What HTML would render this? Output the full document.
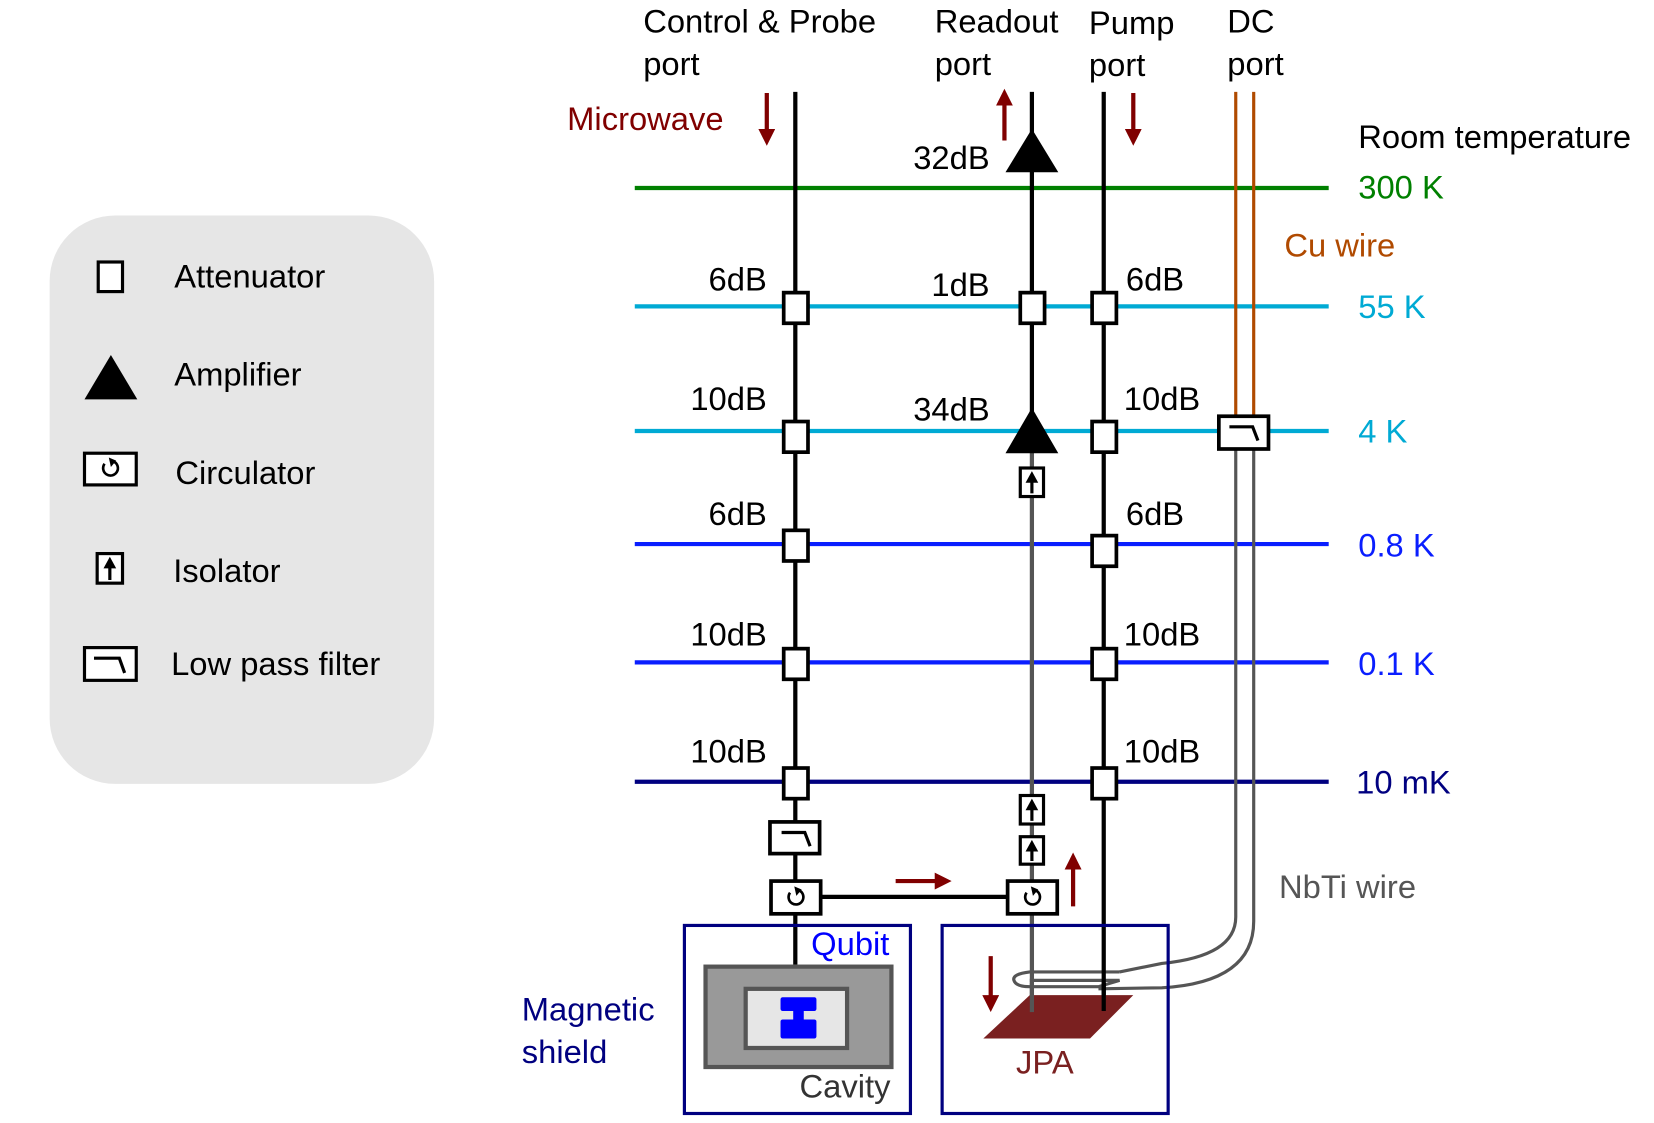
<!DOCTYPE html>
<html><head><meta charset="utf-8"><style>
html,body{margin:0;padding:0;background:#fff}
svg{display:block}
text{font-family:"Liberation Sans",Arial,sans-serif;font-size:31px}
</style></head><body>
<svg width="1654" height="1123" viewBox="0 0 1566 1063" preserveAspectRatio="none" xmlns="http://www.w3.org/2000/svg">
<defs>
<marker id="ar" viewBox="0 0 10 10" refX="5" refY="5" markerWidth="4" markerHeight="4" orient="auto"><path d="M0,0L10,5L0,10z" fill="#800000"/></marker>
</defs>
<rect x="47" y="204" width="364" height="538" rx="62" fill="#e6e6e6"/>
<rect x="93" y="248" width="23" height="28" fill="#fff" stroke="#000" stroke-width="3"/>
<polygon points="80,378 130,378 105,336" fill="#000"/>
<rect x="80" y="429" width="49" height="30" fill="#fff" stroke="#000" stroke-width="3"/>
<path d="M99,439 A7,7 0 1 0 108,437" fill="none" stroke="#000" stroke-width="2.5"/><polygon points="103,433 110,436 105,442" fill="#000"/>
<rect x="92" y="524" width="24" height="28" fill="#fff" stroke="#000" stroke-width="3"/>
<line x1="104" y1="549" x2="104" y2="534" stroke="#000" stroke-width="3"/><polygon points="98,538 110,538 104,527" fill="#000"/>
<rect x="80" y="613" width="49" height="31" fill="#fff" stroke="#000" stroke-width="3"/>
<path d="M89,623 H113 L118,637" fill="none" stroke="#000" stroke-width="3"/>
<text x="165" y="272">Attenuator</text>
<text x="165" y="365">Amplifier</text>
<text x="166" y="458">Circulator</text>
<text x="164" y="551">Isolator</text>
<text x="162" y="639">Low pass filter</text>

<line x1="601" y1="178" x2="1258" y2="178" stroke="#008000" stroke-width="4"/>
<line x1="601" y1="290" x2="1258" y2="290" stroke="#00aad4" stroke-width="4"/>
<line x1="601" y1="408" x2="1258" y2="408" stroke="#00aad4" stroke-width="4"/>
<line x1="601" y1="515" x2="1258" y2="515" stroke="#0a1eff" stroke-width="4"/>
<line x1="601" y1="627" x2="1258" y2="627" stroke="#0a1eff" stroke-width="4"/>
<line x1="601" y1="740" x2="1258" y2="740" stroke="#000080" stroke-width="4"/>

<line x1="1170" y1="87" x2="1170" y2="400" stroke="#b04a00" stroke-width="3"/>
<line x1="1187" y1="87" x2="1187" y2="400" stroke="#b04a00" stroke-width="3"/>
<path d="M1170,420 V868 Q1170,905 1100,912 L1060,920" fill="none" stroke="#555" stroke-width="3"/>
<path d="M1187,420 V872 Q1187,930 1100,935 L1040,936" fill="none" stroke="#555" stroke-width="3"/>
<path d="M1060,920 L975,920 Q958,922 960,928 Q962,934 975,934 L1040,934 L1060,928 L975,928" fill="none" stroke="#555" stroke-width="3"/>

<line x1="753" y1="87" x2="753" y2="913" stroke="#000" stroke-width="4"/>
<line x1="977" y1="87" x2="977" y2="410" stroke="#000" stroke-width="4"/>
<line x1="977" y1="410" x2="977" y2="958" stroke="#555" stroke-width="4"/>
<line x1="1045" y1="87" x2="1045" y2="957" stroke="#000" stroke-width="4"/>
<line x1="777" y1="849" x2="953" y2="849" stroke="#000" stroke-width="4"/>

<g fill="#fff" stroke="#000" stroke-width="3.5">
<rect x="742" y="277" width="23" height="29"/>
<rect x="742" y="399" width="23" height="29"/>
<rect x="742" y="502" width="23" height="29"/>
<rect x="742" y="614" width="23" height="29"/>
<rect x="742" y="727" width="23" height="29"/>
<rect x="966" y="277" width="23" height="29"/>
<rect x="1034" y="277" width="23" height="29"/>
<rect x="1034" y="399" width="23" height="29"/>
<rect x="1034" y="507" width="23" height="29"/>
<rect x="1034" y="614" width="23" height="29"/>
<rect x="1034" y="727" width="23" height="29"/>
</g>
<polygon points="952,163 1002,163 977,122" fill="#000"/>
<polygon points="952,429 1002,429 977,386" fill="#000"/>
<g>
<rect x="966" y="443" width="22" height="27" fill="#fff" stroke="#000" stroke-width="3"/>
<rect x="966" y="753" width="22" height="27" fill="#fff" stroke="#000" stroke-width="3"/>
<rect x="966" y="792" width="22" height="26" fill="#fff" stroke="#000" stroke-width="3"/>
<g stroke="#000" stroke-width="3"><line x1="977" y1="467" x2="977" y2="453"/><line x1="977" y1="777" x2="977" y2="763"/><line x1="977" y1="815" x2="977" y2="802"/></g>
<polygon points="971,457 983,457 977,446" fill="#000"/>
<polygon points="971,767 983,767 977,756" fill="#000"/>
<polygon points="971,806 983,806 977,795" fill="#000"/>
</g>
<rect x="729" y="778" width="47" height="30" fill="#fff" stroke="#000" stroke-width="3.5"/>
<path d="M740,788 H762 L767,801" fill="none" stroke="#000" stroke-width="3"/>
<rect x="1154" y="394" width="47" height="31" fill="#fff" stroke="#000" stroke-width="3.5"/>
<path d="M1164,404 H1186 L1191,417" fill="none" stroke="#000" stroke-width="3"/>
<rect x="730" y="834" width="47" height="31" fill="#fff" stroke="#000" stroke-width="3.5"/>
<path d="M748,845 A7,7 0 1 0 757,843" fill="none" stroke="#000" stroke-width="2.5"/><polygon points="752,839 759,842 754,848" fill="#000"/>
<rect x="954" y="834" width="47" height="31" fill="#fff" stroke="#000" stroke-width="3.5"/>
<path d="M972,845 A7,7 0 1 0 981,843" fill="none" stroke="#000" stroke-width="2.5"/><polygon points="976,839 983,842 978,848" fill="#000"/>

<rect x="648" y="876" width="214" height="178" fill="none" stroke="#000080" stroke-width="3"/>
<rect x="892" y="876" width="214" height="178" fill="none" stroke="#000080" stroke-width="3"/>
<rect x="668" y="915" width="176" height="95" fill="#999" stroke="#555" stroke-width="4"/>
<rect x="706" y="936" width="96" height="56" fill="#e6e6e6" stroke="#555" stroke-width="4"/>
<rect x="739" y="944" width="34" height="13" rx="2" fill="#0000ff"/>
<rect x="751" y="955" width="10" height="12" fill="#0000ff"/>
<rect x="739" y="965" width="34" height="18" rx="2" fill="#0000ff"/>
<polygon points="975,942 1073,942 1032,983 931,983" fill="#7a2020"/>
<line x1="977" y1="930" x2="977" y2="958" stroke="#555" stroke-width="4"/>
<line x1="1045" y1="930" x2="1045" y2="957" stroke="#000" stroke-width="4"/>

<g stroke="#800000" stroke-width="4" marker-end="url(#ar)">
<line x1="726" y1="88" x2="726" y2="130"/>
<line x1="951" y1="133" x2="951" y2="92"/>
<line x1="1073" y1="88" x2="1073" y2="130"/>
<line x1="848" y1="834" x2="893" y2="834"/>
<line x1="1016" y1="858" x2="1016" y2="815"/>
<line x1="938" y1="905" x2="938" y2="950"/>
</g>

<text x="609" y="31">Control &amp; Probe</text>
<text x="609" y="71">port</text>
<text x="885" y="31">Readout</text>
<text x="885" y="71">port</text>
<text x="1031" y="32">Pump</text>
<text x="1031" y="72">port</text>
<text x="1162" y="31">DC</text>
<text x="1162" y="71">port</text>
<text x="537" y="123" fill="#800000">Microwave</text>
<g text-anchor="end">
<text x="726" y="275">6dB</text>
<text x="726" y="388">10dB</text>
<text x="726" y="497">6dB</text>
<text x="726" y="611">10dB</text>
<text x="726" y="722">10dB</text>
<text x="937" y="280">1dB</text>
<text x="937" y="160">32dB</text>
<text x="937" y="398">34dB</text>
</g>
<text x="1066" y="275">6dB</text>
<text x="1064" y="388">10dB</text>
<text x="1066" y="497">6dB</text>
<text x="1064" y="611">10dB</text>
<text x="1064" y="722">10dB</text>
<text x="1286" y="140">Room temperature</text>
<text x="1286" y="188" fill="#008000">300 K</text>
<text x="1216" y="243" fill="#b04a00">Cu wire</text>
<text x="1286" y="301" fill="#00aad4">55 K</text>
<text x="1286" y="419" fill="#00aad4">4 K</text>
<text x="1286" y="527" fill="#0a1eff">0.8 K</text>
<text x="1286" y="639" fill="#0a1eff">0.1 K</text>
<text x="1284" y="751" fill="#000080">10 mK</text>
<text x="1211" y="850" fill="#555">NbTi wire</text>
<text x="494" y="966" fill="#000080">Magnetic</text>
<text x="494" y="1006" fill="#000080">shield</text>
<text x="768" y="904" fill="#0000ff">Qubit</text>
<text x="757" y="1039" fill="#333">Cavity</text>
<text x="962" y="1016" fill="#7a2020">JPA</text>
</svg>
</body></html>
